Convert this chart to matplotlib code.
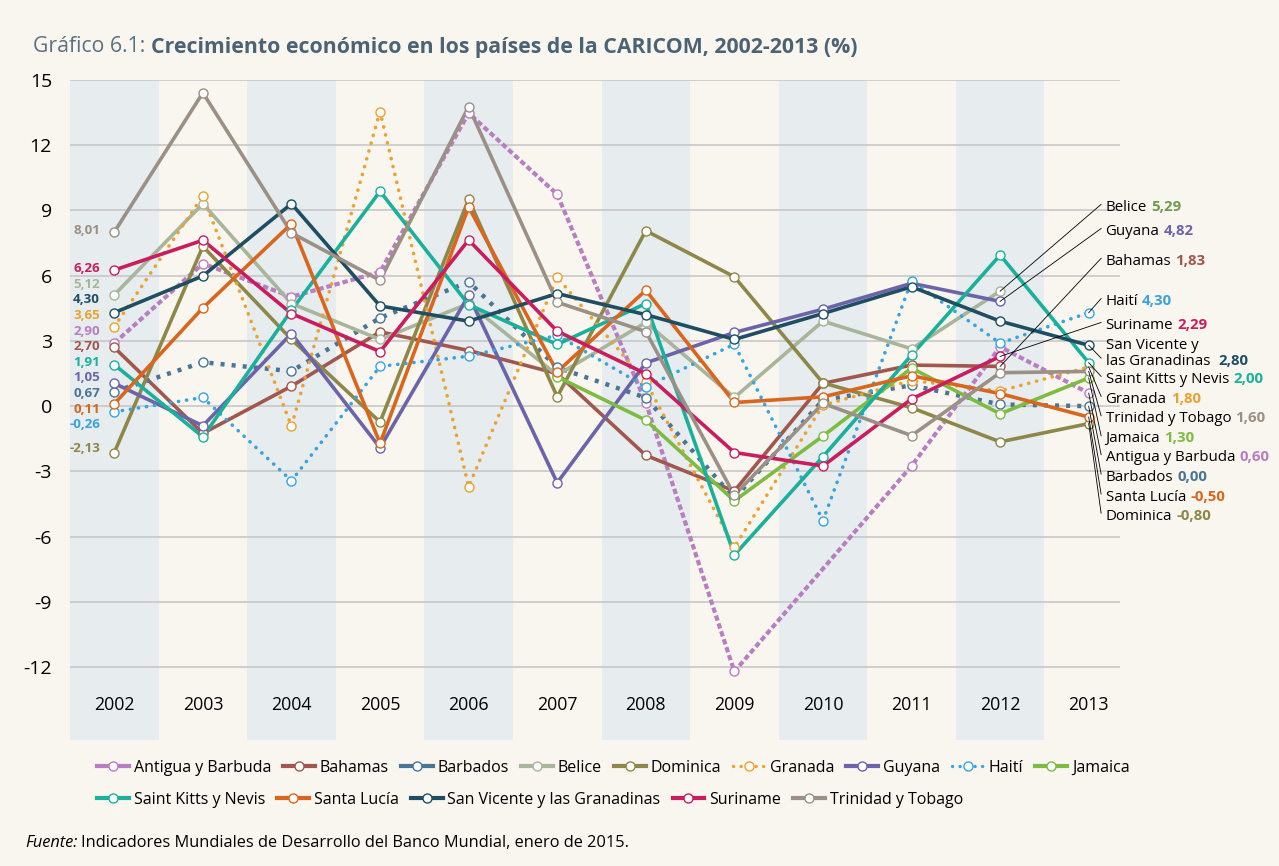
import numpy as np
import matplotlib
matplotlib.use("Agg")
import matplotlib.pyplot as plt
from matplotlib.lines import Line2D

plt.rcParams['font.family'] = ['Open Sans', 'DejaVu Sans']

# ---- data -----------------------------------------------------------------
years = list(range(2002, 2014))
nan = np.nan

antigua = [2.90, 6.56, 5.03, 6.17, 13.48, 9.74, 0.16, -12.20, nan, -2.75, 2.73, 0.60]
bahamas = [2.70, -1.25, 0.92, 3.42, 2.56, 1.50, -2.26, -3.90, 1.05, 1.89, 1.83, nan]
barbados = [0.67, 2.02, 1.61, 4.06, 5.72, 1.78, 0.39, -4.24, 0.28, 0.96, 0.08, 0.00]
belice = [5.12, 9.31, 4.72, 3.07, 4.72, 1.43, 3.85, 0.40, 3.91, 2.64, 5.29, nan]
dominica = [-2.13, 7.35, 3.07, -0.73, 9.51, 0.43, 8.07, 5.95, 1.07, -0.07, -1.64, -0.80]
granada = [3.65, 9.67, -0.92, 13.55, -3.70, 5.93, 1.12, -6.49, 0.05, 1.18, 0.70, 1.80]
guyana = [1.05, -0.90, 3.34, -1.91, 5.10, -3.52, 1.99, 3.39, 4.46, 5.65, 4.82, nan]
haiti = [-0.26, 0.40, -3.43, 1.83, 2.30, 3.26, 0.89, 2.85, -5.26, 5.77, 2.90, 4.30]
jamaica = [nan, nan, nan, nan, nan, 1.35, -0.64, -4.35, -1.37, 1.75, -0.35, 1.30]
st_kitts = [1.91, -1.41, 4.41, 9.88, 4.67, 2.84, 4.72, -6.84, -2.32, 2.35, 6.95, 2.00]
sta_lucia = [0.11, 4.52, 8.39, -1.71, 9.16, 1.58, 5.33, 0.17, 0.43, 1.40, 0.58, -0.50]
san_vicente = [4.30, 5.99, 9.31, 4.61, 3.91, 5.18, 4.21, 3.07, 4.26, 5.49, 3.91, 2.80]
suriname = [6.26, 7.63, 4.26, 2.51, 7.64, 3.45, 1.49, -2.13, -2.75, 0.33, 2.29, nan]
trinidad = [8.01, 14.41, 7.97, 5.79, 13.77, 4.78, 3.43, -4.09, 0.13, -1.35, 1.54, 1.60]

names = ["Antigua y Barbuda", "Bahamas", "Barbados", "Belice", "Dominica",
         "Granada", "Guyana", "Haití", "Jamaica", "Saint Kitts y Nevis",
         "Santa Lucía", "San Vicente y las Granadinas", "Suriname",
         "Trinidad y Tobago"]
values = [antigua, bahamas, barbados, belice, dominica, granada, guyana, haiti,
          jamaica, st_kitts, sta_lucia, san_vicente, suriname, trinidad]

# ---- styles ---------------------------------------------------------------
colors = ["#b87fc0", "#a0584e", "#4b7596", "#a9b59a", "#8d8849", "#e9a233",
          "#6c64a8", "#3aa2dd", "#7dbb42", "#1bb09b", "#d9661f", "#1f4e63",
          "#c81d5e", "#9b9086"]
value_colors = list(colors)
value_colors[3] = "#6e9a4f"
styles = {0: dict(ls=(0, (1.3, 0.7)), lw=3.0, dash_capstyle='butt'),
          2: dict(ls=(0, (0.9, 1.6)), lw=3.2, dash_capstyle='butt'),
          5: dict(ls=(0, (0.05, 2.2)), lw=2.6, dash_capstyle='round'),
          7: dict(ls=(0, (0.05, 2.2)), lw=2.6, dash_capstyle='round')}
BG = "#f9f6ef"
BAND = "#e7ecef"

# label layout (data-unit y positions)
left_label_y = {13: 8.08, 12: 6.34, 3: 5.60, 11: 4.89, 5: 4.16, 0: 3.44,
                1: 2.73, 9: 2.01, 6: 1.30, 2: 0.59, 10: -0.13, 7: -0.85, 4: -1.96}
right_label_y = {3: 9.23, 6: 8.12, 1: 6.75, 7: 4.90, 12: 3.80, 11: 2.16,
                 9: 1.32, 5: 0.40, 13: -0.49, 8: -1.41, 0: -2.28, 2: -3.17,
                 10: -4.09, 4: -4.97}

fig = plt.figure(figsize=(12.79, 8.66), dpi=100, facecolor=BG)
ax = fig.add_axes([70 / 1279, 1 - 740 / 866, 1063 / 1279, 660 / 866])
ax.set_facecolor(BG)
ax.set_xlim(2001.5, 2013.5)
ax.set_ylim(-15.35, 15)
for s in ax.spines.values():
    s.set_visible(False)

for yr in years[::2]:
    ax.axvspan(yr - 0.5, yr + 0.5, color=BAND, lw=0, zorder=0)
yticks = list(range(-12, 16, 3))
ax.hlines(yticks, 2001.5, 2013.35, color="#c4c4c4", lw=1.1, zorder=1)
ax.set_yticks(yticks)
ax.set_yticklabels([str(v) for v in yticks], fontsize=14)
ax.tick_params(axis='y', length=0, pad=13)
ax.set_xticks([])
for yr in years:
    ax.text(yr, -13.72, str(yr), ha='center', va='center', fontsize=12.8)

x = np.array(years)
for i, (nm, v) in enumerate(zip(names, values)):
    v = np.array(v, dtype=float)
    m = ~np.isnan(v)
    st = dict(ls='-', lw=2.6, solid_capstyle='round')
    st.update(styles.get(i, {}))
    ax.plot(x[m], v[m], color=colors[i], zorder=3 + i * 0.1, **st)
    ax.plot(x[m], v[m], ls='none', marker='o', ms=6.5, mfc='white',
            mec=colors[i], mew=1.0, zorder=5 + i * 0.1)

# left labels (first value)
for i, ly in left_label_y.items():
    ax.text(2001.84, ly, f"{values[i][0]:.2f}".replace('.', ','), ha='right',
            va='center', fontsize=9.6, fontweight='bold', color=colors[i])

# right labels (last value) with leader lines
r = fig.canvas.get_renderer()
xl = 2013.19
for i, ly in right_label_y.items():
    v = np.array(values[i], dtype=float)
    last = np.where(~np.isnan(v))[0][-1]
    ax.plot([x[last], xl - 0.05], [v[last], ly + 0.05], color='black',
            lw=0.6, clip_on=False, zorder=8)
    nm = names[i]
    if i == 11:
        ax.text(xl, ly + 0.72, "San Vicente y", ha='left', va='center_baseline',
                fontsize=10.8, clip_on=False)
        nm = "las Granadinas "
    t = ax.text(xl, ly, nm, ha='left', va='center_baseline', fontsize=10.8,
                clip_on=False)
    w = t.get_window_extent(r).width * 72 / fig.dpi
    ax.annotate(f"{v[last]:.2f}".replace('.', ','), xy=(xl, ly),
                xytext=(w + 3, 0), textcoords='offset points', ha='left',
                va='center_baseline', fontsize=10.8, fontweight='bold',
                color=value_colors[i], annotation_clip=False)

# title
t1 = fig.text(33 / 1279, 1 - 47 / 866, "Gráfico 6.1: ", fontsize=15.3,
              color="#5b7080", va='center')
w1 = t1.get_window_extent(r).width
fig.text((33 + w1) / 1279, 1 - 47 / 866,
         "Crecimiento económico en los países de la CARICOM, 2002-2013 (%)",
         fontsize=15.3, fontweight='bold', color="#4d6373", va='center')

# legend
handles = []
for i in range(len(names)):
    ls = styles.get(i, {}).get('ls', '-') if i in (5, 7) else '-'
    handles.append(Line2D([], [], color=colors[i], lw=3 if ls == '-' else 2.4,
                          ls=ls, marker='o', ms=6.5, mfc='white',
                          mec=colors[i], mew=1.0,
                          dash_capstyle='round'))
common = dict(frameon=False, handlelength=2.0, handletextpad=0.3,
              columnspacing=0.75, fontsize=11.5, borderpad=0,
              borderaxespad=0, loc='center left')
fig.legend(handles[:9], names[:9], ncol=9,
           bbox_to_anchor=(97 / 1279, 1 - 768 / 866), **common)
fig.legend(handles[9:], names[9:], ncol=5,
           bbox_to_anchor=(97 / 1279, 1 - 800 / 866), **common)

# source
f1 = fig.text(25 / 1279, 1 - 843 / 866, "Fuente:", fontsize=11.8, style='italic',
              va='center')
wf = f1.get_window_extent(r).width
fig.text((25 + wf + 4) / 1279, 1 - 843 / 866,
         "Indicadores Mundiales de Desarrollo del Banco Mundial, enero de 2015.",
         fontsize=11.8, va='center')

fig.savefig("out.png", dpi=100, facecolor=BG)
